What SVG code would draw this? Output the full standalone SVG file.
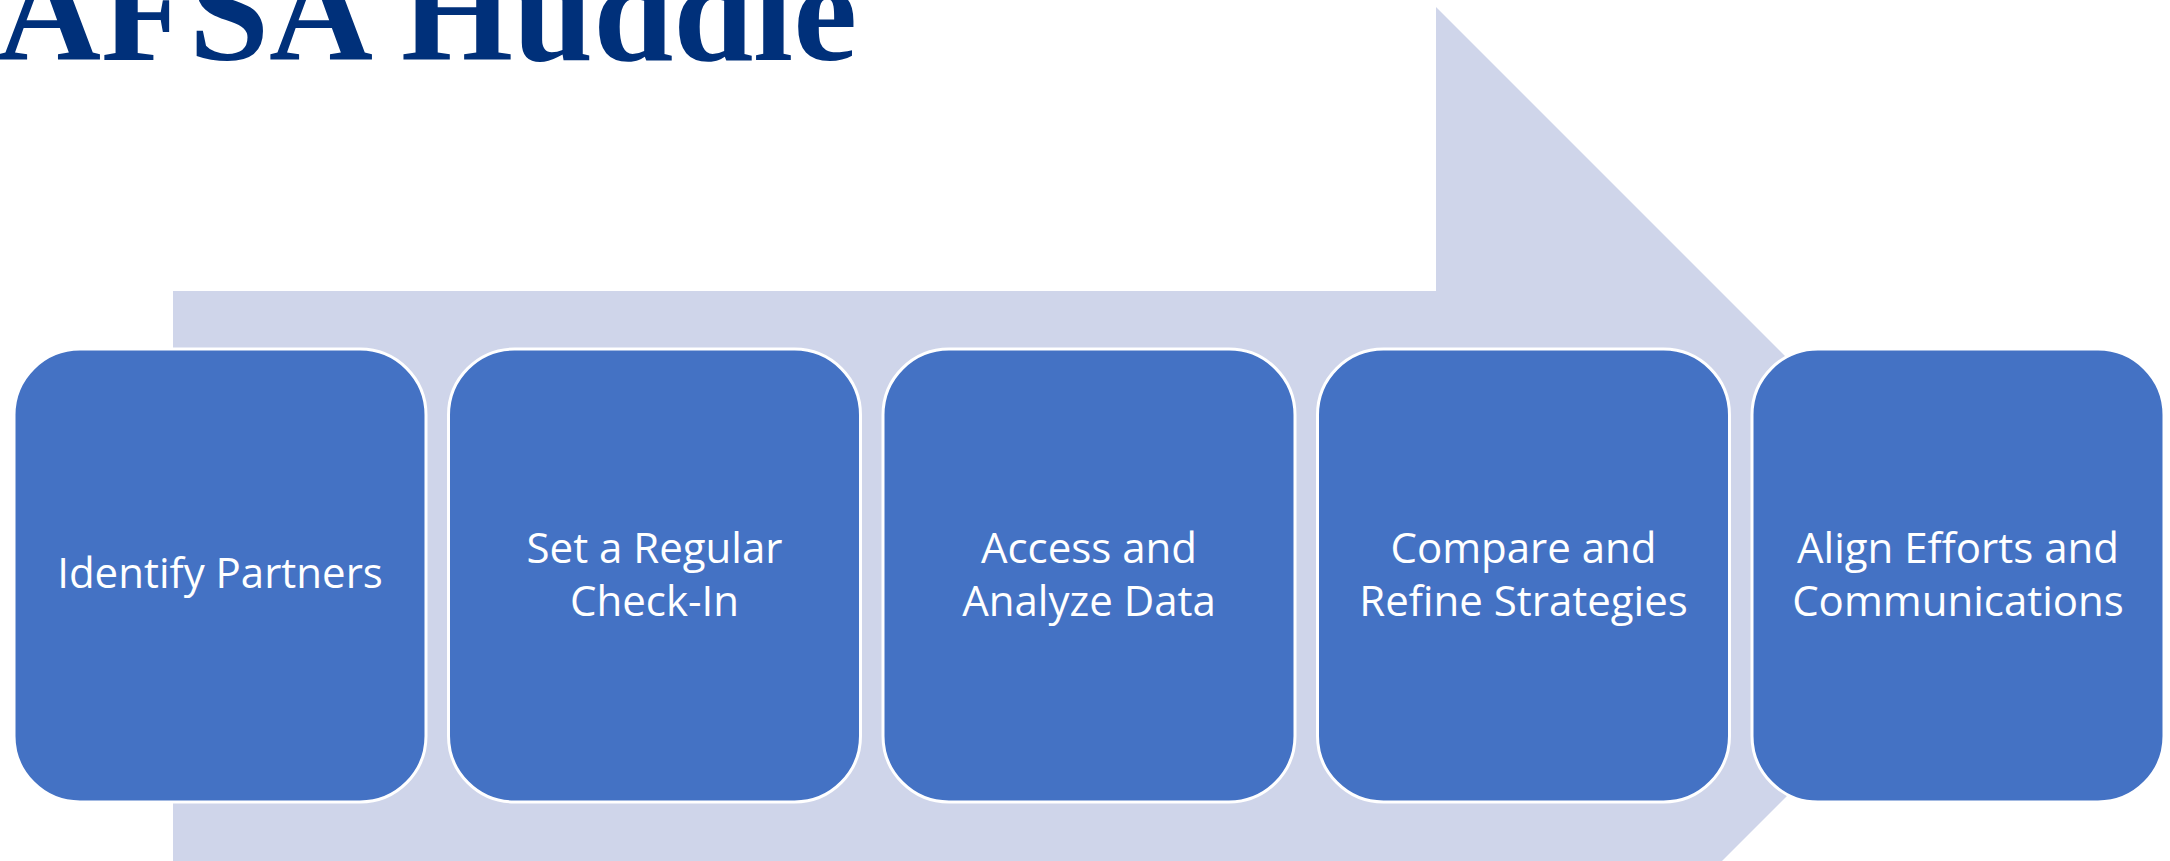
<svg xmlns="http://www.w3.org/2000/svg" width="2170" height="861" viewBox="0 0 2170 861">
  <style>
    .box { fill: #4472C4; stroke: #FFFFFF; stroke-width: 3; }
    .lbl { font-family: "Open Sans", "Liberation Sans", sans-serif; font-size: 42px; fill: #FFFFFF; text-anchor: middle; }
    .title { font-family: "Liberation Serif", "DejaVu Serif", serif; font-weight: bold; font-size: 144px; fill: #00307A; }
  </style>
  <rect x="0" y="0" width="2170" height="861" fill="#FFFFFF"/>
  <text class="title" x="-3" y="60">AFSA Huddle</text>
  <g id="connectors">
    <polygon id="arrow" points="173,291 1436,291 1436,7 2006,577 1436,1147 1436,862 173,862" fill="#CFD5EA"/>
  </g>
  <g id="node1">
    <rect class="box" x="14" y="349" width="412" height="453" rx="66" ry="66"/>
    <text class="lbl" x="220" y="588">Identify Partners</text>
  </g>
  <g id="node2">
    <rect class="box" x="448.5" y="349" width="412" height="453" rx="66" ry="66"/>
    <text class="lbl" x="654.5" y="563">Set a Regular</text>
    <text class="lbl" x="654.5" y="616">Check-In</text>
  </g>
  <g id="node3">
    <rect class="box" x="883" y="349" width="412" height="453" rx="66" ry="66"/>
    <text class="lbl" x="1089" y="563">Access and</text>
    <text class="lbl" x="1089" y="616">Analyze Data</text>
  </g>
  <g id="node4">
    <rect class="box" x="1317.5" y="349" width="412" height="453" rx="66" ry="66"/>
    <text class="lbl" x="1523.5" y="563">Compare and</text>
    <text class="lbl" x="1523.5" y="616">Refine Strategies</text>
  </g>
  <g id="node5">
    <rect class="box" x="1752" y="349" width="412" height="453" rx="66" ry="66"/>
    <text class="lbl" x="1958" y="563">Align Efforts and</text>
    <text class="lbl" x="1958" y="616">Communications</text>
  </g>
</svg>
